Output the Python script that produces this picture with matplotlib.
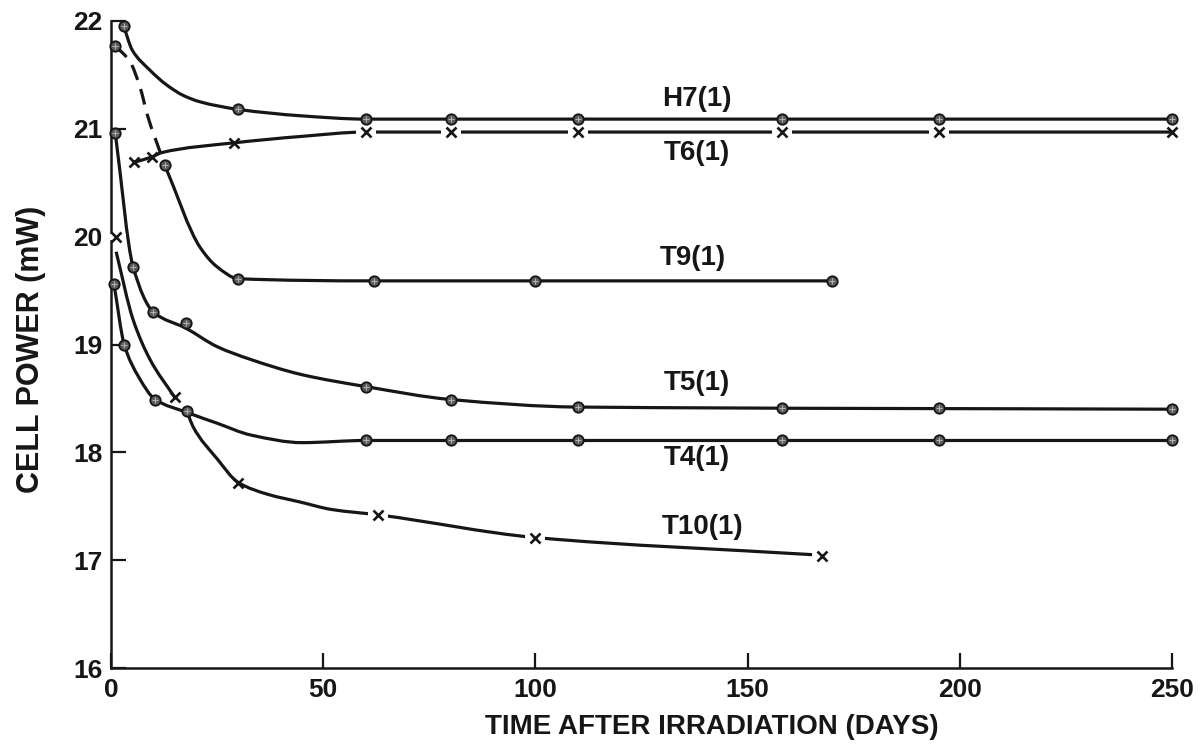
import numpy as np
import matplotlib.pyplot as plt
from matplotlib.path import Path
from matplotlib.patches import PathPatch

plt.rcParams["font.family"] = ["Liberation Sans", "DejaVu Sans"]
plt.rcParams["font.weight"] = "bold"

# ── data (days, mW) ───────────────────────────────────────────────────────
# measured points
h7_days = [3, 30, 60, 80, 110, 158, 195, 250]
h7_pow = [21.95, 21.18, 21.09, 21.09, 21.09, 21.09, 21.09, 21.09]

t6_days = [5.4, 9.7, 29, 60, 80, 110, 158, 195, 250]
t6_pow = [20.69, 20.74, 20.87, 20.97, 20.97, 20.97, 20.97, 20.97, 20.97]

t9_days = [1, 12.7, 30, 62, 100, 170]
t9_pow = [21.77, 20.66, 19.61, 19.59, 19.59, 19.59]

t5_days = [1, 5.2, 10, 17.7, 60, 80, 110, 158, 195, 250]
t5_pow = [20.96, 19.72, 19.30, 19.20, 18.61, 18.49, 18.42, 18.41, 18.41, 18.40]

t4_days = [0.7, 3.1, 10.4, 17.9, 60, 80, 110, 158, 195, 250]
t4_pow = [19.56, 19.00, 18.49, 18.38, 18.11, 18.11, 18.11, 18.11, 18.11, 18.11]

t10_days = [1.2, 15, 30, 63, 100, 167.5]
t10_pow = [20.00, 18.51, 17.72, 17.42, 17.21, 17.04]

# hand-drawn curves
h7_line_d = [3, 5, 9, 13, 17, 21, 30, 45, 60, 250]
h7_line_p = [21.95, 21.73, 21.55, 21.41, 21.31, 21.25, 21.18, 21.12, 21.09, 21.09]

t6_line_d = [5.4, 9.7, 12, 29, 45, 60, 250]
t6_line_p = [20.69, 20.74, 20.78, 20.87, 20.93, 20.97, 20.97]

t9_dash_d = [1, 4.5, 6.8, 8.7, 11.6]
t9_dash_p = [21.77, 21.62, 21.39, 21.11, 20.78]
t9_line_d = [12.7, 21, 25, 30, 62, 100, 170]
t9_line_p = [20.66, 19.90, 19.72, 19.61, 19.59, 19.59, 19.59]

t5_line_d = [1, 5.2, 10, 17.7, 25, 33, 45, 60, 80, 110, 250]
t5_line_p = [20.96, 19.72, 19.30, 19.15, 18.98, 18.86, 18.72, 18.61, 18.49, 18.42, 18.40]

t4_line_d = [0.7, 3.1, 6.5, 10.4, 17.9, 25, 33, 45, 60, 250]
t4_line_p = [19.56, 19.00, 18.70, 18.49, 18.37, 18.27, 18.16, 18.09, 18.11, 18.11]

t10_line1_d = [1.2, 5.2, 9.2, 15]
t10_line1_p = [19.86, 19.23, 18.86, 18.51]
t10_line2_d = [18, 19.3, 25, 30, 37, 44.5, 52, 63, 100, 165.8]
t10_line2_p = [18.37, 18.24, 17.94, 17.72, 17.61, 17.54, 17.47, 17.42, 17.21, 17.05]

labels = ["H7(1)", "T6(1)", "T9(1)", "T5(1)", "T4(1)", "T10(1)"]
label_days = [138, 138, 137, 138, 138, 139.5]
label_pow = [21.28, 20.78, 19.80, 18.64, 17.95, 17.31]

xticks = [0, 50, 100, 150, 200, 250]
yticks = [16, 17, 18, 19, 20, 21, 22]

INK = "#161616"


def smooth_path(xs, ys):
    """Monotone cubic (PCHIP-style) curve through the traced points as a Bezier path."""
    x = np.asarray(xs, float)
    y = np.asarray(ys, float)
    h = np.diff(x)
    d = np.diff(y) / h
    m = np.zeros_like(x)
    m[0], m[-1] = d[0], d[-1]
    for k in range(1, len(x) - 1):
        if d[k - 1] * d[k] <= 0:
            m[k] = 0.0
        else:
            w1 = 2 * h[k] + h[k - 1]
            w2 = h[k] + 2 * h[k - 1]
            m[k] = (w1 + w2) / (w1 / d[k - 1] + w2 / d[k])
    verts = [(x[0], y[0])]
    codes = [Path.MOVETO]
    for k in range(len(x) - 1):
        verts += [(x[k] + h[k] / 3, y[k] + m[k] * h[k] / 3),
                  (x[k + 1] - h[k] / 3, y[k + 1] - m[k + 1] * h[k] / 3),
                  (x[k + 1], y[k + 1])]
        codes += [Path.CURVE4] * 3
    return Path(verts, codes)


def draw_curve(ax, xs, ys, ls="-"):
    patch = PathPatch(smooth_path(xs, ys), fill=False, edgecolor=INK,
                      linewidth=2.3, linestyle=ls, capstyle="butt",
                      zorder=2, clip_on=False)
    ax.add_patch(patch)


def dots(ax, xs, ys):
    ax.plot(xs, ys, ls="none", marker="o", markersize=7.5,
            markerfacecolor="#5a5a5a", markeredgecolor=INK,
            markeredgewidth=1.3, zorder=5, clip_on=False)
    ax.plot(xs, ys, ls="none", marker="+", markersize=4,
            markeredgecolor="#b0b0b0", markeredgewidth=0.8,
            zorder=6, clip_on=False)


def crosses(ax, xs, ys, halo_xs=(), halo_ys=()):
    if len(halo_xs):
        ax.plot(halo_xs, halo_ys, ls="none", marker="_", markersize=15,
                markeredgecolor="white", markeredgewidth=4.5, zorder=3,
                clip_on=False)
    ax.plot(xs, ys, ls="none", marker="x", markersize=6.5,
            markeredgecolor=INK, markeredgewidth=1.9, zorder=5,
            clip_on=False)


fig = plt.figure(figsize=(12.03, 7.49), dpi=100)
ax = fig.add_axes([0.0923, 0.1081, 0.8819, 0.8639])

# curves
draw_curve(ax, h7_line_d, h7_line_p)
draw_curve(ax, t6_line_d, t6_line_p)
draw_curve(ax, t9_dash_d, t9_dash_p, ls=(0, (5, 3)))
draw_curve(ax, t9_line_d, t9_line_p)
draw_curve(ax, t5_line_d, t5_line_p)
draw_curve(ax, t4_line_d, t4_line_p)
draw_curve(ax, t10_line1_d, t10_line1_p)
draw_curve(ax, t10_line2_d, t10_line2_p)

# markers
dots(ax, h7_days, h7_pow)
dots(ax, t9_days, t9_pow)
dots(ax, t5_days, t5_pow)
dots(ax, t4_days, t4_pow)
crosses(ax, t6_days, t6_pow, t6_days[3:-1], t6_pow[3:-1])
crosses(ax, t10_days, t10_pow,
        [t10_days[0]] + t10_days[3:], [t10_pow[0]] + t10_pow[3:])

for txt, dx, py in zip(labels, label_days, label_pow):
    ax.text(dx, py, txt, ha="center", va="center", fontsize=20,
            fontweight="bold", color=INK)

ax.set_xlim(0, 250)
ax.set_ylim(16, 22)
ax.set_xticks(xticks)
ax.set_yticks(yticks)
for side in ("top", "right"):
    ax.spines[side].set_visible(False)
for side in ("left", "bottom"):
    ax.spines[side].set_linewidth(1.8)
    ax.spines[side].set_color(INK)
ax.tick_params(direction="in", length=11, width=1.6, color=INK,
               labelsize=19, labelcolor=INK)
ax.tick_params(axis="x", pad=7)
ax.tick_params(axis="y", pad=6)
for lab in ax.get_xticklabels() + ax.get_yticklabels():
    lab.set_fontweight("bold")

fig.text(0.0258, 0.533, "CELL POWER (mW)", rotation=90, ha="center",
         va="center", fontsize=22, fontweight="bold", color=INK)
fig.text(0.5918, 0.029, "TIME AFTER IRRADIATION (DAYS)", ha="center",
         va="center", fontsize=20, fontweight="bold", color=INK)

fig.savefig("out.png", dpi=100, facecolor="white")
